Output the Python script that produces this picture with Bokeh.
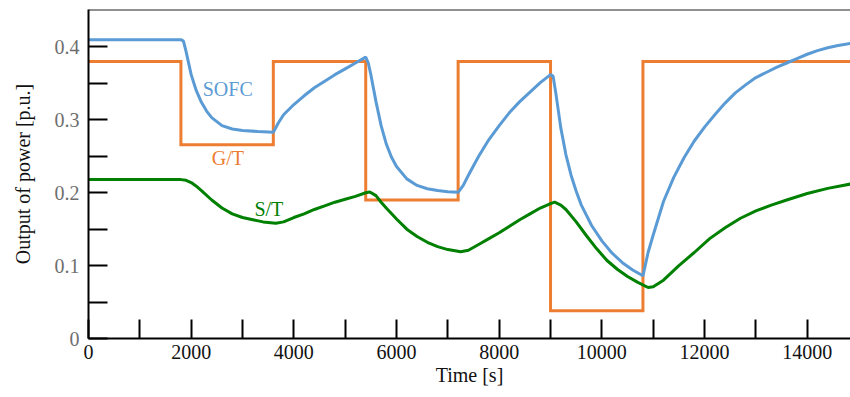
from bokeh.plotting import figure
from bokeh.models import Range1d, FixedTicker, CustomJSTickFormatter, Span, Label
from bokeh.embed import file_html
from bokeh.resources import INLINE

# G/T : step levels between switching times
gt_times = [0, 1800, 3600, 5400, 7200, 9000, 10800, 14850]
gt_levels = [0.380, 0.266, 0.380, 0.190, 0.380, 0.038, 0.380]

# SOFC output
t_sofc = [0, 1800, 1850, 1900, 2000, 2100, 2200, 2300, 2400, 2600, 2800, 3000, 3300, 3600,
          3700, 3800, 4000, 4200, 4400, 4600, 4800, 5000, 5200, 5400,
          5450, 5500, 5600, 5700, 5800, 5900, 6000, 6200, 6400, 6600, 6800, 7000, 7200,
          7300, 7400, 7600, 7800, 8000, 8200, 8400, 8600, 8800, 9000,
          9050, 9100, 9200, 9300, 9400, 9500, 9600, 9800, 10000, 10200, 10400, 10600, 10800,
          10900, 11000, 11200, 11400, 11600, 11800, 12000, 12200, 12400, 12600, 12800,
          13000, 13200, 13400, 13600, 13800, 14000, 14200, 14400, 14600, 14850]
p_sofc = [0.410, 0.410, 0.408, 0.394, 0.362, 0.340, 0.324, 0.312, 0.303, 0.292, 0.2875, 0.2855, 0.284, 0.283,
          0.296, 0.307, 0.321, 0.333, 0.344, 0.353, 0.362, 0.370, 0.378, 0.386,
          0.378, 0.362, 0.325, 0.292, 0.267, 0.249, 0.236, 0.219, 0.210, 0.2055, 0.203, 0.2015, 0.2005,
          0.210, 0.224, 0.250, 0.273, 0.292, 0.310, 0.325, 0.338, 0.351, 0.362,
          0.360, 0.338, 0.289, 0.252, 0.224, 0.202, 0.183, 0.155, 0.134, 0.117, 0.104, 0.094, 0.086,
          0.118, 0.142, 0.188, 0.221, 0.248, 0.271, 0.290, 0.307, 0.323, 0.337, 0.348,
          0.358, 0.365, 0.372, 0.378, 0.384, 0.390, 0.395, 0.399, 0.402, 0.405]

# S/T output
t_st = [0, 1800, 1900, 2000, 2100, 2200, 2400, 2600, 2800, 3000, 3200, 3400, 3650, 3800,
        4000, 4200, 4400, 4600, 4800, 5000, 5200, 5400, 5480, 5600, 5700, 5800, 6000, 6200,
        6400, 6600, 6800, 7000, 7250, 7400, 7600, 7800, 8000, 8200, 8400, 8600, 8800, 9000,
        9080, 9200, 9300, 9500, 9700, 9900, 10100, 10300, 10500, 10700, 10900, 11000, 11200,
        11500, 11800, 12100, 12400, 12700, 13000, 13300, 13600, 14000, 14400, 14850]
p_st = [0.218, 0.218, 0.217, 0.214, 0.209, 0.203, 0.190, 0.179, 0.171, 0.166, 0.163, 0.160, 0.158, 0.160,
        0.166, 0.171, 0.177, 0.182, 0.187, 0.191, 0.195, 0.200, 0.201, 0.196, 0.187, 0.179, 0.164, 0.150,
        0.140, 0.132, 0.126, 0.122, 0.119, 0.121, 0.129, 0.137, 0.145, 0.154, 0.163, 0.171, 0.179, 0.185,
        0.187, 0.183, 0.177, 0.160, 0.141, 0.123, 0.107, 0.095, 0.085, 0.077, 0.070, 0.071, 0.080,
        0.100, 0.118, 0.137, 0.152, 0.165, 0.175, 0.183, 0.190, 0.199, 0.206, 0.212]

x_ticks = [0, 2000, 4000, 6000, 8000, 10000, 12000, 14000]
x_minor = [1000, 3000, 5000, 7000, 9000, 11000, 13000]
y_ticks = [0, 0.1, 0.2, 0.3, 0.4]
y_minor = [0.05, 0.15, 0.25, 0.35]

X_MAX = 14843
Y_MAX = 0.4514

FONT = "Liberation Serif"
BLUE = "#5b9bd5"
ORANGE = "#ed7d31"
GREEN = "#008000"

# build step polyline for G/T
gx, gy = [], []
for i, lvl in enumerate(gt_levels):
    gx += [gt_times[i], gt_times[i + 1]]
    gy += [lvl, lvl]

p = figure(width=850, height=397, output_backend="svg", toolbar_location=None,
           x_range=Range1d(0, X_MAX), y_range=Range1d(0, Y_MAX),
           min_border_left=88, min_border_right=0, min_border_top=9, min_border_bottom=59)
p.outline_line_color = None
p.xgrid.visible = False
p.ygrid.visible = False
p.background_fill_color = "white"
p.border_fill_color = "white"

p.line(gx, gy, line_color=ORANGE, line_width=3, line_join="miter")
p.line(t_sofc, p_sofc, line_color=BLUE, line_width=3)
p.line(t_st, p_st, line_color=GREEN, line_width=3)

p.add_layout(Span(location=Y_MAX, dimension="width", line_color="#222222", line_width=2))

xa = p.xaxis[0]
xa.ticker = FixedTicker(ticks=x_ticks, minor_ticks=x_minor)
xa.axis_label = "Time [s]"
xa.axis_label_text_font = FONT
xa.axis_label_text_font_size = "20px"
xa.axis_label_text_font_style = "normal"
xa.axis_label_text_color = "#111111"
xa.axis_label_standoff = 2
xa.major_label_text_font = FONT
xa.major_label_text_font_size = "20px"
xa.major_label_text_color = "#111111"
xa.major_label_standoff = 6
xa.axis_line_width = 2
xa.axis_line_color = "black"
xa.major_tick_in = 19
xa.major_tick_out = 0
xa.minor_tick_in = 19
xa.minor_tick_out = 0
xa.major_tick_line_width = 2
xa.minor_tick_line_width = 2
xa.major_tick_line_color = "black"
xa.minor_tick_line_color = "black"

ya = p.yaxis[0]
ya.ticker = FixedTicker(ticks=y_ticks, minor_ticks=y_minor)
ya.formatter = CustomJSTickFormatter(code="return tick == 0 ? '0' : tick.toFixed(1);")
ya.axis_label = "Output of power [p.u.]"
ya.axis_label_text_font = FONT
ya.axis_label_text_font_size = "20px"
ya.axis_label_text_font_style = "normal"
ya.axis_label_text_color = "#111111"
ya.axis_label_standoff = 18
ya.major_label_text_font = FONT
ya.major_label_text_font_size = "20px"
ya.major_label_text_color = "#6e6e6e"
ya.major_label_standoff = 9
ya.axis_line_width = 2
ya.axis_line_color = "black"
ya.major_tick_in = 19
ya.major_tick_out = 0
ya.minor_tick_in = 19
ya.minor_tick_out = 0
ya.major_tick_line_width = 2
ya.minor_tick_line_width = 2
ya.major_tick_line_color = "black"
ya.minor_tick_line_color = "black"

for txt, x, y, c in [("SOFC", 2225, 0.343, BLUE), ("G/T", 2400, 0.247, ORANGE), ("S/T", 3232, 0.178, GREEN)]:
    p.add_layout(Label(x=x, y=y, text=txt, text_color=c, text_font=FONT,
                       text_font_size="20px", text_baseline="middle", text_align="left"))

open("out.html", "w").write(file_html(p, INLINE))
